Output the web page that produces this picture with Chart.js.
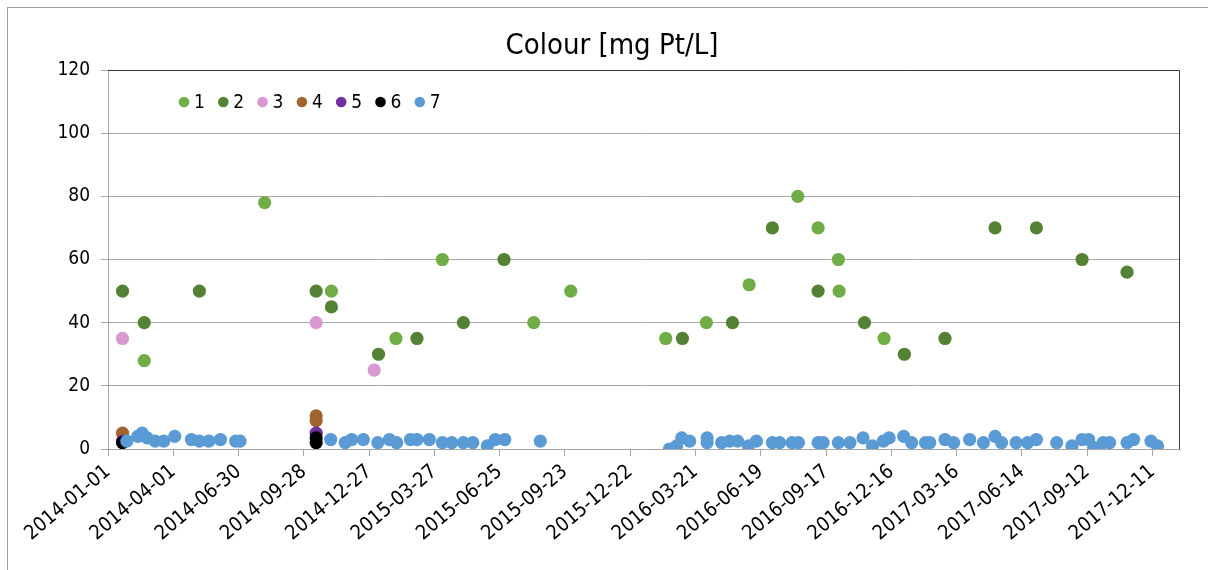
<!DOCTYPE html>
<html>
<head>
<meta charset="utf-8">
<title>Colour [mg Pt/L]</title>
<script src="https://cdn.jsdelivr.net/npm/chart.js@4.4.1/dist/chart.umd.min.js"></script>
<style>
    html, body { margin: 0; padding: 0; background: #fff; }
    canvas { display: block; }
</style>
</head>
<body>
<canvas id="colour-chart" width="1208" height="570"></canvas>
<script>
// x values are days since 2014-01-01
const xMaxDay = 1478;
const xTickDays = [0, 90, 180, 270, 360, 450, 540, 630, 720, 810, 900, 990, 1080, 1170, 1260, 1350, 1440];
const xTickLabels = [
    '2014-01-01', '2014-04-01', '2014-06-30', '2014-09-28', '2014-12-27', '2015-03-27',
    '2015-06-25', '2015-09-23', '2015-12-22', '2016-03-21', '2016-06-19', '2016-09-17',
    '2016-12-16', '2017-03-16', '2017-06-14', '2017-09-12', '2017-12-11'
];
const yTicks = [0, 20, 40, 60, 80, 100, 120];

const seriesNames = ['1', '2', '3', '4', '5', '6', '7'];
const seriesColors = ['#70AD47', '#548235', '#DA98D2', '#A0642F', '#7030A0', '#000000', '#5B9BD5'];

const s1Days = [50, 216, 308, 397, 461, 587, 638, 769, 825, 884, 951, 979, 1007, 1008, 1070];
const s1Vals = [28, 78, 50, 35, 60, 40, 50, 35, 40, 52, 80, 70, 60, 50, 35];

const s2Days = [20, 50, 126, 287, 308, 373, 426, 490, 546, 792, 861, 916, 979, 1043, 1098, 1154, 1223, 1280, 1343, 1405];
const s2Vals = [50, 40, 50, 50, 45, 30, 35, 40, 60, 35, 40, 70, 50, 40, 30, 35, 70, 70, 60, 56];

const s3Days = [20, 287, 367];
const s3Vals = [35, 40, 25];

const s4Days = [20, 287, 287];
const s4Vals = [5, 10.5, 9];

const s5Days = [20, 287];
const s5Vals = [2.5, 5];

const s6Days = [20, 287, 287];
const s6Vals = [2, 3.5, 2];

const s7Days = [
    26, 41, 47, 54, 65, 77, 92, 115, 126, 139, 155, 176, 182,
    307, 327, 336, 352, 372, 388, 398, 417, 426, 443, 461, 474, 490, 503, 523, 534, 547, 596,
    774, 784, 791, 802, 826, 826, 846, 857, 868, 883, 894, 916, 926, 943, 952, 979, 986, 1007, 1023,
    1041, 1054, 1069, 1077, 1097, 1108, 1127, 1133, 1154, 1166, 1188, 1207, 1223, 1232, 1252, 1268,
    1280, 1308, 1329, 1343, 1352, 1359, 1372, 1381, 1405, 1414, 1438, 1447
];
const s7Vals = [
    2.5, 4, 5, 3.5, 2.5, 2.5, 4, 3, 2.5, 2.5, 3, 2.5, 2.5,
    3, 2, 3, 3, 2, 3, 2, 3, 3, 3, 2, 2, 2, 2, 1, 3, 3, 2.5,
    0, 1, 3.5, 2.5, 3.5, 2, 2, 2.5, 2.5, 1, 2.5, 2, 2, 2, 2, 2, 2, 2, 2,
    3.5, 1, 2.5, 3.5, 4, 2, 2, 2, 3, 2, 3, 2, 4, 2, 2, 2,
    3, 2, 1, 3, 3, 0.5, 2, 2, 2, 3, 2.5, 1
];

const seriesDays = [s1Days, s2Days, s3Days, s4Days, s5Days, s6Days, s7Days];
const seriesVals = [s1Vals, s2Vals, s3Vals, s4Vals, s5Vals, s6Vals, s7Vals];

const FONT = "'DejaVu Sans Condensed', 'Noto Sans', sans-serif";
const GRID = '#A6A6A6';

// Chart border + dark top/right edge of the plot area
const framePlugin = {
    id: 'frame',
    beforeDraw(chart) {
        const c = chart.ctx;
        c.save();
        c.fillStyle = '#fff';
        c.fillRect(0, 0, chart.width, chart.height);
        c.strokeStyle = '#A0A0A0';
        c.lineWidth = 1;
        c.strokeRect(7.5, 7.5, chart.width + 20, chart.height + 20);
        c.restore();
    },
    afterDraw(chart) {
        const a = chart.chartArea;
        const c = chart.ctx;
        c.save();
        c.strokeStyle = '#3A3A3A';
        c.lineWidth = 1;
        c.beginPath();
        c.moveTo(a.left, Math.round(a.top) + 0.5);
        c.lineTo(Math.round(a.right) - 0.5, Math.round(a.top) + 0.5);
        c.lineTo(Math.round(a.right) - 0.5, a.bottom);
        c.stroke();
        c.restore();
    }
};

// Legend inside the plot, top-left, as in the source
const insideLegend = {
    id: 'insideLegend',
    afterDatasetsDraw(chart) {
        const c = chart.ctx;
        c.save();
        c.font = '19px ' + FONT;
        c.textBaseline = 'middle';
        c.textAlign = 'left';
        chart.data.datasets.forEach((ds, i) => {
            const x = 184 + i * 39.3;
            const y = 102;
            c.fillStyle = ds.backgroundColor;
            c.beginPath();
            c.arc(x, y, 5.3, 0, Math.PI * 2);
            c.fill();
            c.fillStyle = '#000';
            c.fillText(ds.label, x + 10, y + 1);
        });
        c.restore();
    }
};

const datasets = seriesNames.map((name, i) => ({
    label: name,
    data: seriesDays[i].map((d, k) => ({ x: d, y: seriesVals[i][k] })),
    backgroundColor: seriesColors[i],
    borderColor: seriesColors[i],
    borderWidth: 0,
    pointRadius: 6.6,
    pointHoverRadius: 6.6,
    order: seriesNames.length - i,
}));

const ctx = document.getElementById('colour-chart').getContext('2d');

new Chart(ctx, {
    type: 'scatter',
    data: { datasets },
    options: {
        responsive: false,
        animation: false,
        // left padding centres the title over the plot area like Excel does
        layout: { padding: { left: 44, right: 28, top: 0, bottom: 0 } },
        plugins: {
            legend: { display: false },
            tooltip: { enabled: false },
            title: {
                display: true,
                text: 'Colour [mg Pt/L]',
                color: '#000',
                font: { family: FONT, size: 29, weight: 'normal' },
                padding: { top: 28.6, bottom: 6.6 },
            },
        },
        scales: {
            x: {
                type: 'linear',
                min: 0,
                max: xMaxDay,
                afterBuildTicks: axis => { axis.ticks = xTickDays.map(v => ({ value: v })); },
                afterFit: axis => {
                    axis.height = 121;
                    axis.paddingLeft = 0;
                    axis.paddingRight = 0;
                },
                grid: { drawOnChartArea: false, drawTicks: true, tickLength: 7, color: GRID },
                border: { color: GRID },
                ticks: {
                    autoSkip: false,
                    minRotation: 40,
                    maxRotation: 40,
                    padding: 4,
                    color: '#000',
                    font: { family: FONT, size: 20 },
                    callback: (v, idx) => xTickLabels[idx],
                },
            },
            y: {
                min: 0,
                max: 120,
                afterBuildTicks: axis => { axis.ticks = yTicks.map(v => ({ value: v })); },
                afterFit: axis => { axis.width = 64; },
                grid: { color: GRID, tickLength: 7 },
                border: { color: GRID },
                ticks: {
                    padding: 11,
                    color: '#000',
                    font: { family: FONT, size: 19 },
                },
            },
        },
    },
    plugins: [framePlugin, insideLegend],
});
</script>
</body>
</html>
